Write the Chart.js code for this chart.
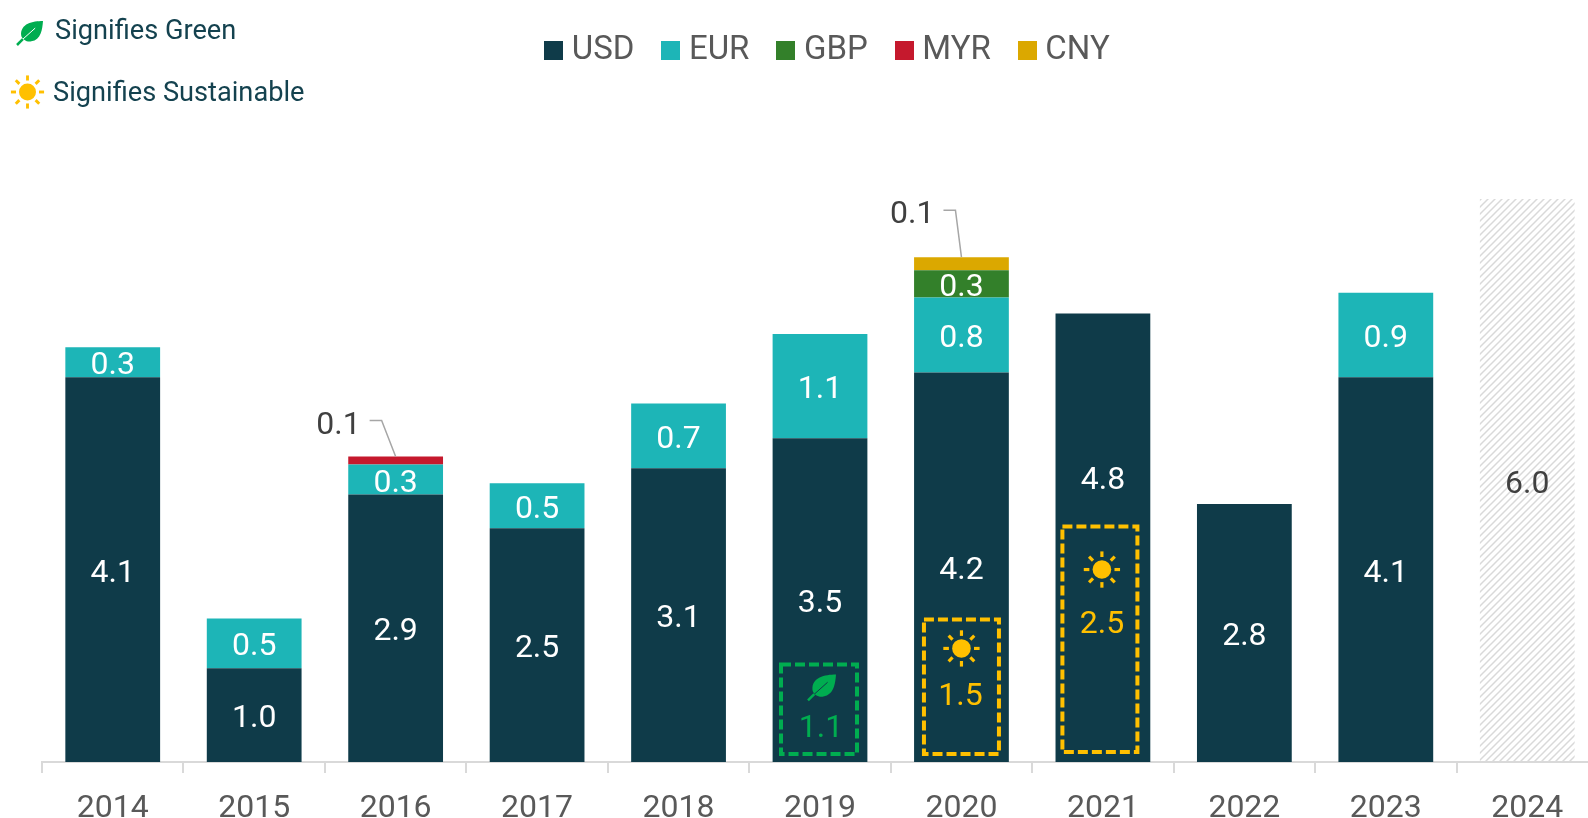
<!DOCTYPE html>
<html>
<head>
<meta charset="utf-8">
<title>Bond issuance by currency</title>
<script src="https://cdn.jsdelivr.net/npm/chart.js@4"></script>
<style>
  html, body { margin: 0; padding: 0; background: #fff; overflow: hidden; }
  #wrap { width: 1588px; height: 818px; overflow: hidden; }
  canvas { display: block; }
</style>
</head>
<body>
<div id="wrap"><canvas id="myChart" width="1600" height="818"></canvas></div>
<script>
// values
const years = ['2014', '2015', '2016', '2017', '2018', '2019', '2020', '2021', '2022', '2023', '2024'];
const usd = [4.10, 1.00, 2.85, 2.49, 3.13, 3.45, 4.15, 4.78, 2.75, 4.10, null];
const eur = [0.32, 0.53, 0.32, 0.48, 0.69, 1.11, 0.80, null, null, 0.90, null];
const gbp = [null, null, null, null, null, null, 0.29, null, null, null, null];
const myr = [null, null, 0.085, null, null, null, null, null, null, null, null];
const cny = [null, null, null, null, null, null, 0.14, null, null, null, null];
const forecast = [null, null, null, null, null, null, null, null, null, null, 6.0];

// part of the USD bar that is green or sustainable
const green = [null, null, null, null, null, 1.05, null, null, null, null, null];
const sustainable = [null, null, null, null, null, null, 1.53, 2.52, null, null, null];

const font = 'Roboto';
const darkText = '#404040';

// diagonal hatch for the 2024 bar
function hatch() {
  const size = 7;
  const c = document.createElement('canvas');
  c.width = size;
  c.height = size;
  const g = c.getContext('2d');
  g.strokeStyle = '#d9d9d9';
  g.lineWidth = 1.5;
  g.beginPath();
  g.moveTo(-1, 1); g.lineTo(1, -1);
  g.moveTo(-1, size + 1); g.lineTo(size + 1, -1);
  g.moveTo(size - 1, size + 1); g.lineTo(size + 1, size - 1);
  g.stroke();
  return g.createPattern(c, 'repeat');
}

// legend swatch as an image, so the text can sit closer than Chart.js would put it
function swatch(color) {
  const c = document.createElement('canvas');
  c.width = 19;
  c.height = 19;
  const g = c.getContext('2d');
  g.fillStyle = color;
  g.fillRect(0, 0, 19, 19);
  return c;
}

function drawSun(ctx, x, y, r, color) {
  ctx.save();
  ctx.fillStyle = color;
  ctx.strokeStyle = color;
  ctx.lineWidth = r * 0.34;
  ctx.beginPath();
  ctx.arc(x, y, r, 0, Math.PI * 2);
  ctx.fill();
  for (let i = 0; i < 8; i++) {
    const a = i * Math.PI / 4;
    ctx.beginPath();
    ctx.moveTo(x + Math.cos(a) * r * 1.35, y + Math.sin(a) * r * 1.35);
    ctx.lineTo(x + Math.cos(a) * r * 1.95, y + Math.sin(a) * r * 1.95);
    ctx.stroke();
  }
  ctx.restore();
}

function drawLeaf(ctx, x, y, s, color, vein) {
  ctx.save();
  ctx.fillStyle = color;
  ctx.beginPath();
  ctx.moveTo(x + s, y - s * 0.85);
  ctx.bezierCurveTo(x + s * 0.2, y - s * 0.85, x - s * 0.75, y - s * 0.65, x - s * 0.68, y + s * 0.25);
  ctx.bezierCurveTo(x - s * 0.62, y + s * 0.6, x - s * 0.2, y + s * 0.8, x + s * 0.1, y + s * 0.72);
  ctx.bezierCurveTo(x + s * 0.85, y + s * 0.6, x + s * 0.95, y - s * 0.2, x + s, y - s * 0.85);
  ctx.fill();
  ctx.lineWidth = 1;
  ctx.strokeStyle = vein;
  ctx.beginPath();
  ctx.moveTo(x - s * 0.55, y + s * 0.55);
  ctx.lineTo(x + s * 0.4, y - s * 0.3);
  ctx.stroke();
  ctx.lineWidth = 2.5;
  ctx.strokeStyle = color;
  ctx.beginPath();
  ctx.moveTo(x - s, y + s);
  ctx.lineTo(x - s * 0.55, y + s * 0.55);
  ctx.stroke();
  ctx.restore();
}

// the legend sits above a big gap and slightly right of centre
const legendPlace = {
  id: 'legendPlace',
  beforeInit(chart) {
    const fit = chart.legend.fit;
    chart.legend.fit = function () {
      fit.call(this);
      this.height = 200;
    };
  },
  beforeDraw(chart) {
    chart.legend.left = 53;
    chart.legend.right = 1609;
  }
};

// value labels inside the bars, 2021 USD label is moved up above its box
const labelMoves = { '0-7': -61 };
const barLabels = {
  id: 'barLabels',
  afterDatasetsDraw(chart) {
    const ctx = chart.ctx;
    ctx.save();
    ctx.font = '32px ' + font;
    ctx.textAlign = 'center';
    ctx.textBaseline = 'middle';
    chart.data.datasets.forEach((ds, d) => {
      chart.getDatasetMeta(d).data.forEach((bar, i) => {
        const v = ds.data[i];
        if (v === null || v < 0.2) return;
        const move = labelMoves[d + '-' + i] || 0;
        ctx.fillStyle = ds.label === 'Forecast' ? darkText : '#fff';
        ctx.fillText(v.toFixed(1), bar.x, (bar.y + bar.base) / 2 + 4 + move);
      });
    });
    ctx.restore();
  }
};

// small segments get their label outside, with a leader line
const callouts = [
  { dataset: 3, index: 2, elbowX: -14, elbowY: -36 },
  { dataset: 4, index: 6, elbowX: -6, elbowY: -47 }
];
const calloutLabels = {
  id: 'calloutLabels',
  afterDatasetsDraw(chart) {
    const ctx = chart.ctx;
    ctx.save();
    callouts.forEach(c => {
      const bar = chart.getDatasetMeta(c.dataset).data[c.index];
      const v = chart.data.datasets[c.dataset].data[c.index];
      ctx.strokeStyle = '#a6a6a6';
      ctx.lineWidth = 1.5;
      ctx.beginPath();
      ctx.moveTo(bar.x, bar.y);
      ctx.lineTo(bar.x + c.elbowX, bar.y + c.elbowY);
      ctx.lineTo(bar.x + c.elbowX - 12, bar.y + c.elbowY);
      ctx.stroke();
      ctx.fillStyle = darkText;
      ctx.font = '32px ' + font;
      ctx.textAlign = 'right';
      ctx.textBaseline = 'middle';
      ctx.fillText(v.toFixed(1), bar.x + c.elbowX - 21, bar.y + c.elbowY + 5);
    });
    ctx.restore();
  }
};

// dashed boxes for green and sustainable parts
const boxStyle = {
  5: { shift: -1, halfW: 38, bottom: 8, icon: 22, iconShift: 3, text: 65, textShift: 2 },
  6: { shift: 0, halfW: 37.5, bottom: 8, icon: 29, iconShift: 0, text: 78, textShift: -1 },
  7: { shift: -3, halfW: 37.5, bottom: 10, icon: 43, iconShift: 2, text: 98, textShift: 2 }
};
const dashedBoxes = {
  id: 'dashedBoxes',
  afterDatasetsDraw(chart) {
    const ctx = chart.ctx;
    const x = chart.scales.x;
    const y = chart.scales.y;
    years.forEach((yr, i) => {
      const v = green[i] !== null ? green[i] : sustainable[i];
      if (v === null) return;
      const isGreen = green[i] !== null;
      const color = isGreen ? '#00ad50' : '#ffc000';
      const s = boxStyle[i];
      const cx = x.getPixelForValue(i) + s.shift;
      const top = y.getPixelForValue(v) + 1;
      ctx.save();
      ctx.strokeStyle = color;
      ctx.lineWidth = 4;
      ctx.setLineDash([10, 4]);
      ctx.strokeRect(cx - s.halfW, top, s.halfW * 2, y.getPixelForValue(0) - s.bottom - top);
      ctx.restore();
      if (isGreen) {
        drawLeaf(ctx, cx + s.iconShift, top + s.icon, 14, color, '#0f3b49');
      } else {
        drawSun(ctx, cx + s.iconShift, top + s.icon, 9.3, color);
      }
      ctx.save();
      ctx.fillStyle = color;
      ctx.font = '32px ' + font;
      ctx.textAlign = 'center';
      ctx.textBaseline = 'middle';
      ctx.fillText(v.toFixed(1), cx + s.textShift, top + s.text);
      ctx.restore();
    });
  }
};

// key for the icons, top left
const iconKey = {
  id: 'iconKey',
  afterDraw(chart) {
    const ctx = chart.ctx;
    drawLeaf(ctx, 30, 32, 13, '#00ad50', '#fff');
    drawSun(ctx, 27.5, 92, 8.5, '#ffc000');
    ctx.save();
    ctx.fillStyle = '#14424f';
    ctx.font = '27.2px ' + font;
    ctx.textAlign = 'left';
    ctx.textBaseline = 'middle';
    ctx.fillText('Signifies Green', 55, 32);
    ctx.fillText('Signifies Sustainable', 53, 94);
    ctx.restore();
  }
};

const myChart = new Chart(document.getElementById('myChart').getContext('2d'), {
  type: 'bar',
  data: {
    labels: years,
    datasets: [
      { label: 'USD', data: usd, backgroundColor: '#0f3b49' },
      { label: 'EUR', data: eur, backgroundColor: '#1db5b7' },
      { label: 'GBP', data: gbp, backgroundColor: '#33802a' },
      { label: 'MYR', data: myr, backgroundColor: '#c5192d' },
      { label: 'CNY', data: cny, backgroundColor: '#dba800' },
      { label: 'Forecast', data: forecast, backgroundColor: hatch() }
    ]
  },
  options: {
    responsive: false,
    animation: false,
    datasets: { bar: { barPercentage: 0.67, categoryPercentage: 1 } },
    layout: { padding: { left: 42, right: 2, top: -1, bottom: 0 } },
    plugins: {
      tooltip: { enabled: false },
      legend: {
        position: 'top',
        labels: {
          usePointStyle: true,
          pointStyleWidth: 3,
          boxHeight: 19,
          padding: 35,
          color: '#595959',
          font: { family: font, size: 33 },
          filter: item => item.text !== 'Forecast',
          generateLabels(chart) {
            const items = Chart.defaults.plugins.legend.labels.generateLabels(chart);
            items.forEach(item => { item.pointStyle = swatch(item.fillStyle); });
            return items;
          }
        }
      }
    },
    scales: {
      x: {
        stacked: true,
        afterFit: scale => { scale.height = 56; },
        border: { color: '#d9d9d9', width: 2 },
        grid: { drawOnChartArea: false, color: '#d9d9d9', lineWidth: 2, tickLength: 11 },
        ticks: {
          color: '#595959',
          padding: 17,
          maxRotation: 0,
          autoSkip: false,
          font: { family: font, size: 32 }
        }
      },
      y: { stacked: true, display: false, min: 0, max: 6 }
    }
  },
  plugins: [legendPlace, barLabels, calloutLabels, dashedBoxes, iconKey]
});
</script>
</body>
</html>
